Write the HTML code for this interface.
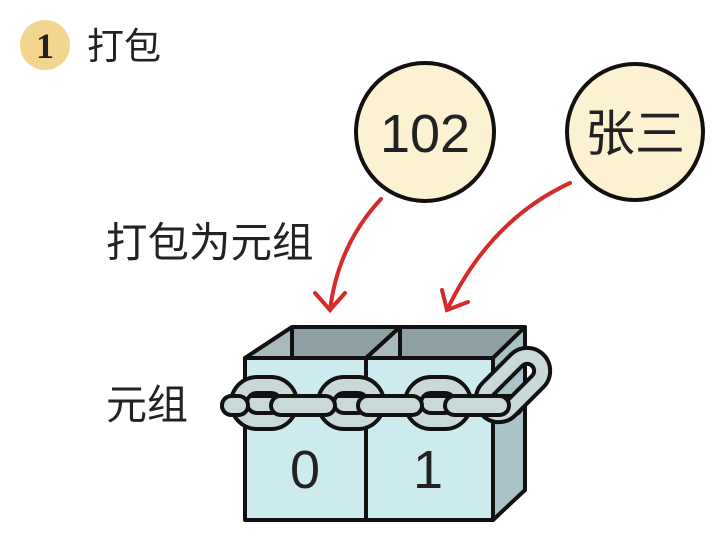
<!DOCTYPE html>
<html><head><meta charset="utf-8"><style>
html,body{margin:0;padding:0;background:#fff}
svg{display:block}
text{font-family:"Liberation Sans","Noto Sans CJK SC",sans-serif;fill:#222}
</style></head><body>
<svg width="714" height="541" viewBox="0 0 714 541" xmlns="http://www.w3.org/2000/svg">
<circle cx="45" cy="45" r="25" fill="#f3d590"/>
<text x="45" y="58" font-size="36" font-weight="bold" text-anchor="middle" style="font-family:'Liberation Serif',serif">1</text>
<text x="87" y="59" font-size="37">打包</text>
<text x="106" y="257" font-size="41.5">打包为元组</text>
<text x="106" y="419" font-size="41">元组</text>

<circle cx="425" cy="132" r="69" fill="#fcf2d2" stroke="#111" stroke-width="4"/>
<text x="425" y="152" font-size="54" text-anchor="middle">102</text>
<circle cx="635" cy="132" r="68" fill="#fcf2d2" stroke="#111" stroke-width="4"/>
<text x="635" y="151" font-size="50" text-anchor="middle">张三</text>

<g stroke="#d62a2a" stroke-width="4" fill="none" stroke-linecap="round">
<path d="M381 199 Q338 245 330 310"/>
<path d="M315 293 L330 310 L345 293"/>
<path d="M570 183 Q490 220 447 310"/>
<path d="M442 290 L447 310 L468 302"/>
</g>

<g stroke="#111" stroke-width="4" stroke-linejoin="round">
<polygon points="292,327 525,327 493,358 245,358" fill="#8ea0a4"/>
<polygon points="292,327 245,358 292,358" fill="#a8babd"/>
<polygon points="400,327 366,358 400,358" fill="#a8babd"/>
<line x1="292" y1="327" x2="292" y2="358"/>
<line x1="400" y1="327" x2="400" y2="358"/>
<line x1="400" y1="327" x2="366" y2="358"/>
<polygon points="493,358 525,327 525,490 493,520" fill="#a9c3c8"/>
<rect x="245" y="358" width="121" height="162" fill="#cdeaef"/>
<rect x="366" y="358" width="127" height="162" fill="#cdeaef"/>
</g>
<text x="305" y="488" font-size="54" text-anchor="middle">0</text>
<text x="428" y="488" font-size="54" text-anchor="middle">1</text>

<g stroke="#111" stroke-width="4" fill="#c9d9d9">
<rect x="222" y="396" width="300" height="19" rx="9.5"/>
<g fill="none" stroke="#111" stroke-width="20">
<rect x="239" y="385" width="50" height="36" rx="18"/>
<rect x="326" y="385" width="50" height="36" rx="18"/>
<rect x="413" y="385" width="50" height="36" rx="18"/>
<rect x="498" y="350" width="30" height="70" rx="15" transform="rotate(45 513 385)"/>
</g>
<g fill="none" stroke="#c9d9d9" stroke-width="12">
<rect x="239" y="385" width="50" height="36" rx="18"/>
<rect x="326" y="385" width="50" height="36" rx="18"/>
<rect x="413" y="385" width="50" height="36" rx="18"/>
<rect x="498" y="350" width="30" height="70" rx="15" transform="rotate(45 513 385)"/>
</g>
<rect x="271" y="396" width="64" height="19" rx="9.5"/>
<rect x="358" y="396" width="64" height="19" rx="9.5"/>
<rect x="445" y="396" width="64" height="19" rx="9.5"/>
<rect x="222" y="396" width="26" height="19" rx="9.5"/>
</g>
</svg>
</body></html>
